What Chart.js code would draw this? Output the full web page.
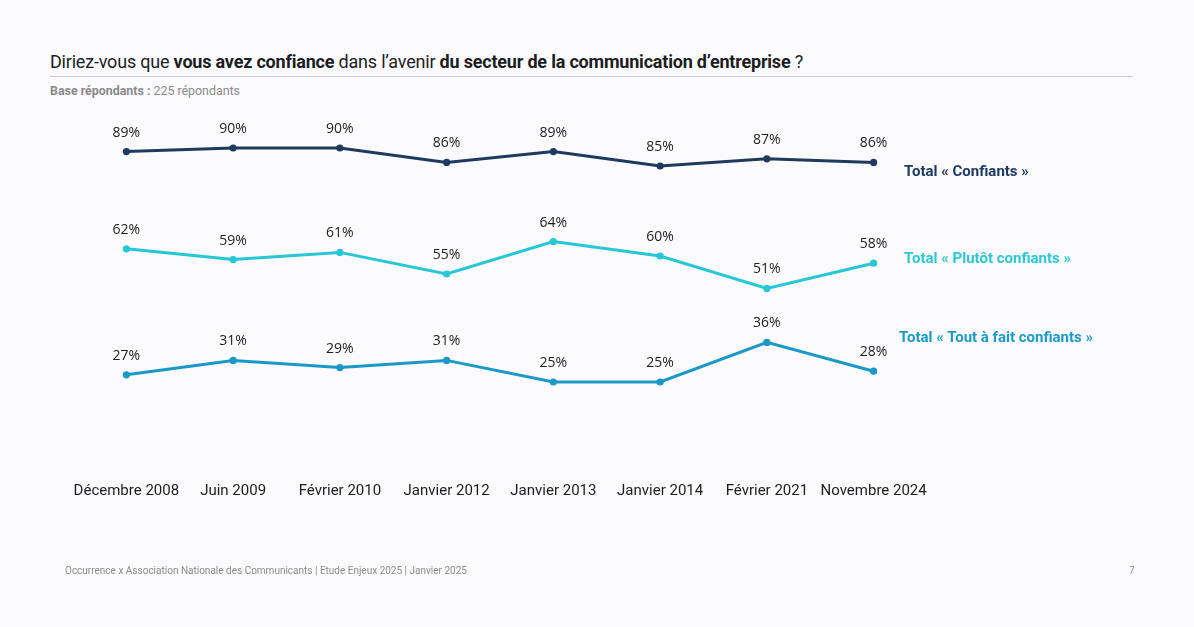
<!DOCTYPE html>
<html lang="fr">
<head>
    <meta charset="UTF-8">
    <title>Confiance dans l'avenir du secteur</title>
    <style>
        * { margin: 0; padding: 0; box-sizing: border-box; }
        body {
            width: 1194px;
            height: 627px;
            background: #fbfbfd;
            font-family: Roboto, 'Noto Sans', sans-serif;
            position: relative;
            overflow: hidden;
        }
        .title {
            position: absolute;
            left: 50px;
            top: 51px;
            font-size: 18px;
            color: #1d1d1f;
            letter-spacing: -0.2px;
        }
        .rule {
            position: absolute;
            left: 50px;
            top: 76px;
            width: 1083px;
            height: 1px;
            background: #c9ccd2;
        }
        .base {
            position: absolute;
            left: 50px;
            top: 83px;
            font-size: 12.4px;
            color: #8a8a8a;
        }
        .series-name {
            position: absolute;
            font-size: 15px;
            font-weight: bold;
            white-space: nowrap;
        }
        .footer {
            position: absolute;
            left: 65px;
            top: 565px;
            font-size: 10px;
            color: #8a8a8a;
        }
        .page {
            position: absolute;
            left: 1129px;
            top: 565px;
            font-size: 10px;
            color: #8a8a8a;
        }
        #wrap {
            position: absolute;
            left: 0;
            top: 0;
            width: 1194px;
            height: 627px;
        }
    </style>
    <script src="https://cdn.jsdelivr.net/npm/chart.js"></script>
</head>
<body>
    <div class="title">Diriez-vous que <b>vous avez confiance</b> dans l’avenir <b>du secteur de la communication d’entreprise</b> ?</div>
    <div class="rule"></div>
    <div class="base"><b>Base répondants :</b> 225 répondants</div>

    <div id="wrap"><canvas id="chart"></canvas></div>

    <div class="series-name" style="left:904px; top:162px; color:#1f3a60;">Total « Confiants »</div>
    <div class="series-name" style="left:904px; top:249px; color:#2dc8d2;">Total « Plutôt confiants »</div>
    <div class="series-name" style="left:899px; top:328px; color:#1b9bc8;">Total « Tout à fait confiants »</div>

    <div class="footer">Occurrence x Association Nationale des Communicants | Etude Enjeux 2025 | Janvier 2025</div>
    <div class="page">7</div>

    <script>
        // Data
        const periods = ['Décembre 2008', 'Juin 2009', 'Février 2010', 'Janvier 2012', 'Janvier 2013', 'Janvier 2014', 'Février 2021', 'Novembre 2024'];
        const confiants = [89, 90, 90, 86, 89, 85, 87, 86];
        const plutotConfiants = [62, 59, 61, 55, 64, 60, 51, 58];
        const toutAFaitConfiants = [27, 31, 29, 31, 25, 25, 36, 28];

        // draws the % above each point
        const valueLabels = {
            id: 'valueLabels',
            afterDatasetsDraw(chart) {
                const ctx = chart.ctx;
                ctx.save();
                ctx.font = '14px "Open Sans", "Noto Sans", sans-serif';
                ctx.fillStyle = '#1d1d1f';
                ctx.textAlign = 'center';
                ctx.textBaseline = 'middle';
                chart.data.datasets.forEach((ds, i) => {
                    chart.getDatasetMeta(i).data.forEach((pt, j) => {
                        ctx.fillText(ds.data[j] + '%', pt.x, pt.y - 19);
                    });
                });
                ctx.restore();
            }
        };

        const line = (data, color) => ({
            data: data,
            borderColor: color,
            backgroundColor: color,
            borderWidth: 3,
            pointRadius: 3.6,
            pointBorderWidth: 0,
            pointHoverRadius: 3.6,
            tension: 0
        });

        new Chart(document.getElementById('chart'), {
            type: 'line',
            data: {
                labels: periods,
                datasets: [
                    line(confiants, '#1e3a5f'),
                    line(plutotConfiants, '#27c7d5'),
                    line(toutAFaitConfiants, '#1a98c8')
                ]
            },
            options: {
                responsive: true,
                maintainAspectRatio: false,
                animation: false,
                layout: {
                    padding: { left: 73, right: 267, top: 112, bottom: 125 }
                },
                plugins: {
                    legend: { display: false },
                    tooltip: { enabled: false }
                },
                scales: {
                    x: {
                        offset: true,
                        grid: { display: false },
                        border: { display: false },
                        ticks: {
                            padding: 2,
                            maxRotation: 0,
                            autoSkip: false,
                            color: '#1d1d1f',
                            font: { family: 'Roboto', size: 15 }
                        }
                    },
                    y: {
                        display: false,
                        min: 0,
                        max: 100
                    }
                }
            },
            plugins: [valueLabels]
        });
    </script>
</body>
</html>
